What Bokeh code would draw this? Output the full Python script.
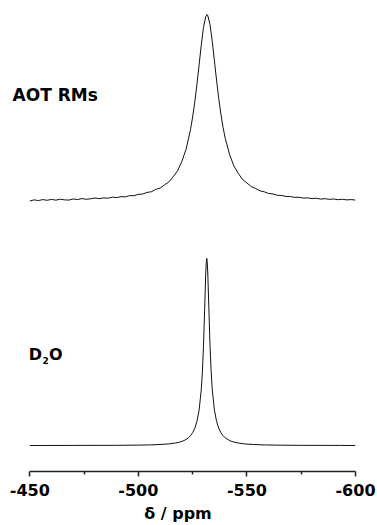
from bokeh.plotting import figure
from bokeh.models import Range1d, FixedTicker, ColumnDataSource
from bokeh.core.properties import value
from bokeh.embed import file_html
from bokeh.resources import INLINE

# AOT reverse micelles spectrum (ppm, intensity a.u.)
aot_ppm = [-450, -452, -454, -456, -458, -460, -462, -464, -466, -468, -470, -472,
           -474, -476, -478, -480, -482, -484, -486, -488, -490, -492, -494, -496,
           -498, -500, -502, -504, -506, -508, -510, -512, -514, -516, -518, -520,
           -522, -524, -525, -526, -527, -528, -529, -530, -531, -531.6, -532, -533,
           -534, -535, -536, -537, -538, -539, -540, -542, -544, -546, -548, -550,
           -552, -554, -556, -558, -560, -562, -564, -566, -568, -570, -572, -574,
           -576, -578, -580, -582, -584, -586, -588, -590, -592, -594, -596, -598, -600]
aot_int = [0.2, 1.3, 0.6, 1.6, 0.9, 1.8, 1.0, 2.0, 1.3, 1.1, 2.2, 1.6,
           2.6, 1.9, 2.4, 3.2, 2.5, 3.3, 3.0, 4.0, 3.6, 4.6, 4.3, 5.6,
           5.5, 6.9, 7.1, 8.8, 9.5, 11.8, 13.1, 16.3, 19.2, 24.4, 30.2, 39.8,
           52.3, 71.8, 84.6, 99.9, 117.7, 137.5, 157.4, 174.6, 185.1, 187.5, 186.2, 177.3,
           161.2, 141.5, 121.6, 103.3, 87.5, 74.2, 63.2, 46.9, 35.3, 27.9, 21.8, 18.3,
           14.6, 12.8, 10.4, 9.4, 7.7, 7.3, 5.9, 5.8, 4.7, 4.7, 3.8, 3.9,
           3.1, 3.3, 2.6, 2.9, 2.1, 2.5, 1.8, 2.2, 1.5, 1.9, 1.3, 1.6, 1.1]

# D2O spectrum
d2o_ppm = [-450, -470, -490, -500, -505, -510, -514, -517, -519, -521, -523, -524,
           -525, -526, -527, -528, -529, -529.5, -530, -530.5, -531, -531.25, -531.5,
           -531.75, -532, -532.5, -533, -533.5, -534, -535, -536, -537, -538, -539,
           -540, -542, -544, -546, -549, -553, -558, -563, -573, -593, -600]
d2o_int = [0.1, 0.2, 0.3, 0.5, 0.7, 1.1, 1.7, 2.6, 3.5, 5.0, 7.8, 10.0,
           13.0, 17.5, 24.5, 36.0, 57.0, 75.0, 100.5, 135.2, 171.3, 183.5, 188.0,
           183.5, 171.3, 135.2, 100.5, 75.0, 57.0, 36.0, 24.5, 17.5, 13.0, 10.0,
           7.8, 5.0, 3.5, 2.6, 1.7, 1.1, 0.7, 0.5, 0.3, 0.2, 0.1]

x_ticks = [-450, -500, -550, -600]
x_minor = [-475, -525, -575]
x_tick_labels = {-450: "-450", -500: "-500", -550: "-550", -600: "-600"}

aot_offset = 271.5
d2o_offset = 26

p = figure(width=377, height=525, output_backend="svg", toolbar_location=None,
           x_range=Range1d(start=-436.5, end=-600), y_range=Range1d(0, 461),
           min_border_left=0, min_border_right=22, min_border_top=12, min_border_bottom=52)
p.outline_line_color = None
p.grid.visible = False
p.yaxis.visible = False
p.background_fill_color = "white"

aot_src = ColumnDataSource(dict(x=aot_ppm, y=[v + aot_offset for v in aot_int]))
d2o_src = ColumnDataSource(dict(x=d2o_ppm, y=[v + d2o_offset for v in d2o_int]))
p.line("x", "y", source=aot_src, line_color="#111111", line_width=1)
p.line("x", "y", source=d2o_src, line_color="#111111", line_width=1)

font = value("DejaVu Sans")
p.text(x=[-442.04], y=[378], text=["AOT RMs"], text_font=font, text_font_size="17px",
       text_font_style="bold", text_color="black", text_align="left", text_baseline="alphabetic")
p.text(x=[-449.54], y=[118], text=["D"], text_font=font, text_font_size="16px",
       text_font_style="bold", text_color="black", text_align="left", text_baseline="alphabetic")
p.text(x=[-455.84], y=[111], text=["2"], text_font=font, text_font_size="9px",
       text_font_style="bold", text_color="black", text_align="left", text_baseline="alphabetic")
p.text(x=[-458.84], y=[118], text=["O"], text_font=font, text_font_size="16px",
       text_font_style="bold", text_color="black", text_align="left", text_baseline="alphabetic")

ax = p.xaxis[0]
ax.ticker = FixedTicker(ticks=x_ticks, minor_ticks=x_minor)
ax.major_label_overrides = x_tick_labels
ax.bounds = (-600, -450)
ax.axis_label = "δ / ppm"
ax.axis_label_text_font = "DejaVu Sans"
ax.axis_label_text_font_style = "bold"
ax.axis_label_text_font_size = "16px"
ax.axis_label_text_color = "black"
ax.axis_label_standoff = 5
ax.major_label_text_font = "DejaVu Sans"
ax.major_label_text_font_style = "bold"
ax.major_label_text_font_size = "16px"
ax.major_label_text_color = "black"
ax.major_label_standoff = 7
ax.axis_line_width = 1.5
ax.axis_line_color = "#222222"
ax.major_tick_line_width = 1.5
ax.major_tick_line_color = "#222222"
ax.minor_tick_line_width = 1.5
ax.minor_tick_line_color = "#222222"
ax.major_tick_in = 0
ax.major_tick_out = 5
ax.minor_tick_in = 0
ax.minor_tick_out = 3

open("out.html", "w").write(file_html(p, INLINE))
